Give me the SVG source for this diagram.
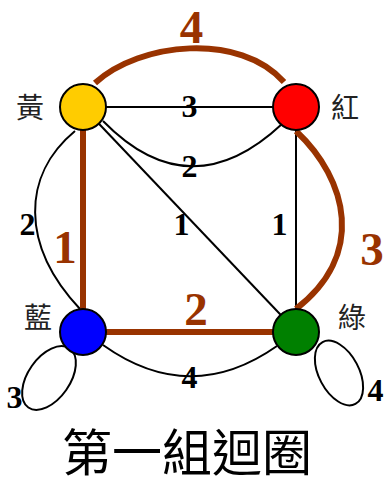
<svg xmlns="http://www.w3.org/2000/svg" width="385" height="482" viewBox="0 0 385 482">
<style>
.e{fill:none;stroke:#000;stroke-width:2}
.b{fill:none;stroke:#993300;stroke-width:6}
.n{stroke:#000;stroke-width:2}
.w{font-family:"Liberation Serif","Times New Roman",serif;font-weight:bold;font-size:32px;fill:#000;text-anchor:middle}
.bw{font-family:"Liberation Serif","Times New Roman",serif;font-weight:bold;font-size:47px;fill:#993300;text-anchor:middle}
.c{font-family:"Noto Sans CJK TC","Noto Sans CJK SC",sans-serif;font-size:28px;fill:#222;text-anchor:middle}
.t{font-family:"Liberation Sans","Noto Sans CJK TC","Noto Sans CJK SC",sans-serif;font-size:50px;fill:#000;text-anchor:middle}
</style>
<rect width="385" height="482" fill="#fff"/>
<g id="connectors">
<path class="e" d="M83,107 L297,107"/>
<path class="e" d="M103,121 Q190,210 282,124"/>
<path class="e" d="M83,107 L297,332"/>
<path class="e" d="M75,131 C22,175 20,245 80,309"/>
<path class="e" d="M296,107 L296,332"/>
<path class="e" d="M103,345 Q190,407 277,346"/>
<ellipse class="e" cx="49" cy="378" rx="21" ry="36" transform="rotate(35 49 378)"/>
<ellipse class="e" cx="339" cy="373" rx="20" ry="35" transform="rotate(-28 339 373)"/>
<path class="b" d="M95,83 C140,42 240,32 284,82"/>
<path class="b" d="M83,107 L83,332"/>
<path class="b" d="M83,332 L297,332"/>
<path class="b" d="M296,131 C348,180 366,255 296,309"/>
<text class="w" x="189.5" y="117">3</text>
<text class="w" x="189.5" y="177">2</text>
<text class="w" x="181.5" y="235">1</text>
<text class="w" x="279.5" y="235">1</text>
<text class="w" x="27.5" y="235">2</text>
<text class="w" x="189.5" y="388">4</text>
<text class="w" x="14.5" y="408">3</text>
<text class="w" x="375.5" y="401">4</text>
<text class="bw" x="191.5" y="43">4</text>
<text class="bw" x="65" y="263">1</text>
<text class="bw" x="372" y="265">3</text>
<text class="bw" x="196" y="325">2</text>
</g>
<g id="yellow"><circle class="n" cx="83" cy="107" r="23" fill="#FFCC00"/><text class="c" x="30" y="118">黃</text></g>
<g id="red"><circle class="n" cx="296" cy="107" r="23" fill="#FF0000"/><text class="c" x="345" y="118">紅</text></g>
<g id="blue"><circle class="n" cx="83" cy="332" r="23" fill="#0000FF"/><text class="c" x="38" y="328">藍</text></g>
<g id="green"><circle class="n" cx="296" cy="332" r="23" fill="#008000"/><text class="c" x="352" y="328">綠</text></g>
<text class="t" x="187" y="471">第一組迴圈</text>
</svg>
